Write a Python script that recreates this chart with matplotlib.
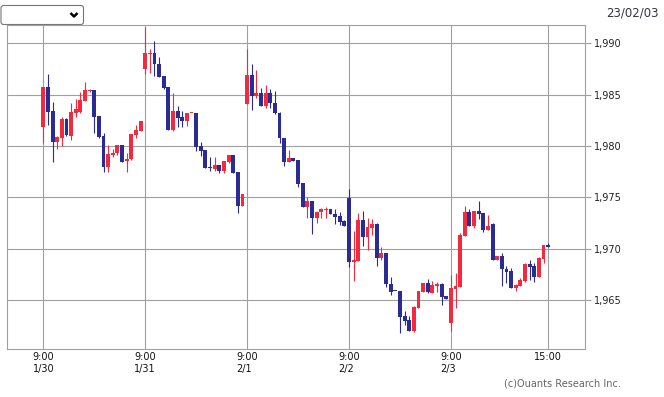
import matplotlib
matplotlib.use("Agg")
import matplotlib.pyplot as plt
from matplotlib.patches import FancyBboxPatch
import numpy as np

# 5 sessions x 22 bars
opens = [
    1981.88, 1985.77, 1983.40, 1980.42, 1980.74, 1982.59, 1980.97, 1983.24, 1983.34, 1984.41, 1985.38,
    1985.45, 1982.92, 1980.97, 1977.92, 1979.12, 1979.28, 1980.09, 1978.53, 1978.70, 1981.06, 1981.49,
    1987.49, 1988.98, 1989.05, 1987.98, 1986.81, 1985.71, 1981.55, 1983.40, 1982.82, 1982.43, 1983.17,
    1983.20, 1979.99, 1979.60, 1977.98, 1977.75, 1978.14, 1977.59, 1978.47, 1979.11, 1977.46, 1974.18,
    1984.09, 1986.91, 1984.90, 1985.13, 1983.90, 1985.13, 1984.15, 1983.18, 1980.74, 1978.47, 1978.80,
    1978.63, 1976.36, 1974.09, 1974.64, 1972.95, 1973.54, 1973.76, 1973.86, 1973.37, 1973.18, 1972.69,
    1974.96, 1968.73, 1968.82, 1972.78, 1971.16, 1972.04, 1972.39, 1969.12, 1969.54, 1966.52, 1965.90,
    1965.87, 1963.43, 1963.04, 1962.00, 1964.25, 1965.80, 1966.61, 1965.71, 1966.39, 1966.55, 1965.38,
    1962.72, 1966.07, 1966.29, 1971.26, 1973.53, 1972.20, 1973.66, 1973.50, 1971.81, 1972.37, 1968.89,
    1969.28, 1968.05, 1967.82, 1966.20, 1966.36, 1966.88, 1968.50, 1968.31, 1967.27, 1968.99, 1970.35,
]
highs = [
    1985.77, 1987.00, 1984.31, 1980.97, 1982.85, 1982.69, 1984.15, 1984.54, 1985.22, 1986.23, 1985.50,
    1985.45, 1982.92, 1981.29, 1980.09, 1979.67, 1980.09, 1980.09, 1979.28, 1981.16, 1982.04, 1982.43,
    1991.60, 1989.44, 1990.22, 1988.63, 1986.81, 1985.71, 1985.12, 1983.89, 1983.40, 1983.20, 1983.20,
    1983.20, 1980.38, 1979.60, 1978.95, 1978.95, 1978.14, 1978.53, 1979.11, 1979.11, 1977.46, 1975.32,
    1989.44, 1987.98, 1987.40, 1985.61, 1985.94, 1985.55, 1985.35, 1983.34, 1980.74, 1979.61, 1978.80,
    1978.63, 1976.36, 1975.06, 1974.64, 1973.54, 1973.93, 1974.09, 1973.86, 1973.86, 1973.60, 1972.79,
    1975.80, 1971.71, 1973.50, 1973.66, 1972.95, 1972.88, 1972.52, 1970.12, 1969.54, 1967.26, 1965.90,
    1965.87, 1963.92, 1963.43, 1964.41, 1965.87, 1966.68, 1967.04, 1966.84, 1966.78, 1966.61, 1965.38,
    1967.43, 1967.59, 1971.55, 1974.15, 1973.86, 1973.66, 1974.64, 1973.50, 1973.27, 1972.46, 1969.28,
    1969.61, 1968.31, 1968.08, 1966.52, 1967.11, 1968.63, 1968.89, 1968.63, 1969.22, 1970.35, 1970.51,
]
lows = [
    1980.32, 1982.04, 1978.47, 1979.67, 1979.99, 1980.97, 1980.58, 1982.85, 1983.24, 1984.41, 1985.30,
    1981.29, 1980.80, 1977.49, 1977.49, 1978.95, 1979.12, 1978.47, 1977.49, 1978.63, 1980.80, 1981.49,
    1986.97, 1987.07, 1986.84, 1986.68, 1985.51, 1981.55, 1981.45, 1981.87, 1981.87, 1981.92, 1983.17,
    1979.54, 1979.02, 1977.88, 1977.59, 1977.59, 1977.39, 1977.39, 1978.30, 1977.39, 1973.43, 1974.18,
    1984.09, 1983.50, 1984.70, 1983.90, 1983.73, 1983.73, 1983.08, 1980.32, 1978.08, 1978.47, 1978.57,
    1976.04, 1974.09, 1972.95, 1971.42, 1972.46, 1972.95, 1973.02, 1973.34, 1972.37, 1972.30, 1972.24,
    1968.24, 1966.87, 1968.82, 1970.25, 1969.86, 1971.32, 1968.34, 1968.89, 1966.29, 1965.48, 1965.85,
    1961.81, 1962.56, 1962.00, 1961.91, 1964.25, 1965.80, 1965.64, 1965.71, 1965.80, 1964.50, 1965.12,
    1962.00, 1964.18, 1966.29, 1971.26, 1972.24, 1972.04, 1972.89, 1971.59, 1971.81, 1968.89, 1968.89,
    1966.36, 1966.68, 1966.20, 1965.90, 1966.36, 1966.78, 1966.94, 1966.78, 1967.27, 1968.63, 1970.19,
]
closes = [
    1985.77, 1983.34, 1980.42, 1980.84, 1982.59, 1981.06, 1983.34, 1983.56, 1984.47, 1985.45, 1985.45,
    1982.85, 1980.90, 1977.92, 1979.21, 1979.28, 1980.09, 1978.47, 1978.70, 1981.16, 1981.55, 1982.43,
    1989.08, 1989.05, 1987.95, 1986.74, 1985.67, 1981.55, 1983.40, 1982.75, 1982.43, 1983.20, 1983.20,
    1979.86, 1979.54, 1977.88, 1977.82, 1978.14, 1977.59, 1978.53, 1979.11, 1977.39, 1974.18, 1975.32,
    1986.91, 1984.90, 1985.13, 1983.90, 1985.13, 1984.15, 1983.18, 1980.74, 1978.47, 1978.80, 1978.57,
    1976.29, 1974.09, 1974.64, 1972.95, 1973.54, 1973.86, 1973.86, 1973.34, 1973.11, 1972.63, 1972.24,
    1968.73, 1968.89, 1972.78, 1971.16, 1972.13, 1972.39, 1969.12, 1969.54, 1966.52, 1965.80, 1965.85,
    1963.37, 1962.98, 1962.00, 1964.34, 1965.87, 1966.68, 1965.80, 1966.45, 1966.52, 1965.32, 1965.12,
    1966.13, 1966.36, 1971.33, 1973.53, 1972.24, 1973.66, 1973.37, 1971.81, 1972.20, 1968.89, 1969.28,
    1967.98, 1967.76, 1966.20, 1966.46, 1966.94, 1968.50, 1968.18, 1967.27, 1969.05, 1970.35, 1970.19,
]
xtick_pos = [0, 22, 44, 66, 88, 109]
xtick_labels = ["9:00\n1/30", "9:00\n1/31", "9:00\n2/1", "9:00\n2/2", "9:00\n2/3", "15:00"]
yticks = [1965, 1970, 1975, 1980, 1985, 1990]

W, H = 664, 397
fig = plt.figure(figsize=(W / 100, H / 100), dpi=100)
fig.patch.set_facecolor("white")

# overlay in pixel coordinates for the page decoration
ov = fig.add_axes([0, 0, 1, 1])
ov.set_xlim(0, W)
ov.set_ylim(H, 0)
ov.axis("off")
ov.add_patch(FancyBboxPatch((1, 5.5), 82.5, 19, boxstyle="round,pad=0,rounding_size=2.5",
                            fc="white", ec="#767676", lw=0.8))
ov.plot([70.5, 74, 77.5], [13, 16.5, 13], color="black", lw=1.8, solid_capstyle="butt")
ov.text(659, 13, "23/02/03", ha="right", va="center", fontsize=8.5, color="#333344")
ov.text(621, 383, "(c)Ouants Research Inc.", ha="right", va="center", fontsize=7, color="#666666")

ax = fig.add_axes([6.7 / W, 1 - 349 / H, (585 - 6.7) / W, (349 - 25) / H])
o = np.array(opens)
h = np.array(highs)
l = np.array(lows)
c = np.array(closes)
x = np.arange(len(o))
up = c >= o
cols = np.where(up, "#f32a3e", "#2b2b94")
bottom = np.minimum(o, c)
height = np.maximum(np.abs(c - o), 0.1)

ax.vlines(x, l, h, colors=cols, lw=0.8, zorder=2)
ax.bar(x, height, bottom=bottom, width=0.84, color=cols, lw=0, zorder=3)

ax.set_xlim(-7.9, 116.95)
ax.set_ylim(1960.23, 1991.78)
ax.set_xticks(xtick_pos)
ax.set_xticklabels(xtick_labels)
ax.set_yticks(yticks)
ax.set_yticklabels([f"{v:,}" for v in yticks])
ax.yaxis.tick_right()
ax.set_axisbelow(True)
ax.grid(color="#a0a0a0", lw=0.8)
for s in ax.spines.values():
    s.set_color("#a0a0a0")
    s.set_linewidth(0.8)
ax.tick_params(axis="x", length=0, pad=2.5, labelsize=7, labelcolor="#111111")
ax.tick_params(axis="y", direction="out", length=4.3, width=0.8, color="#a0a0a0",
               pad=2.5, labelsize=7, labelcolor="#222222")
for t in ax.get_xticklabels():
    t.set_multialignment("left")

fig.savefig("out.png", dpi=100)
